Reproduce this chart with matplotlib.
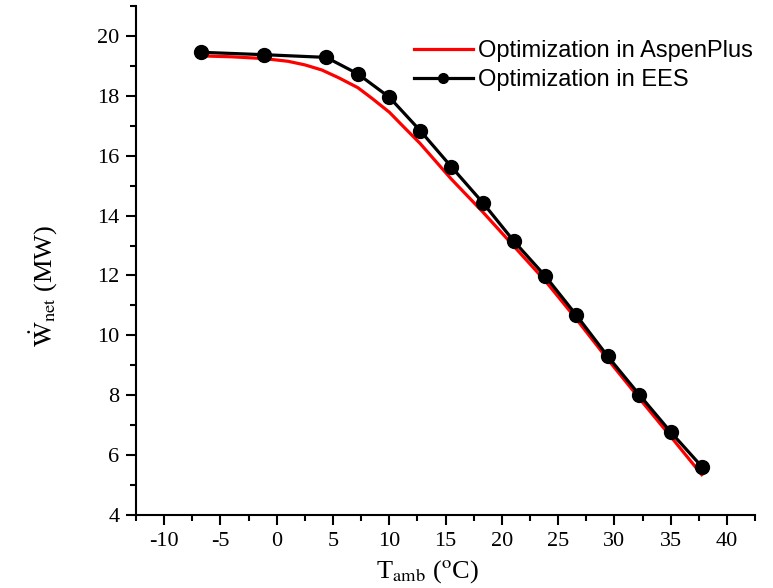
import matplotlib.pyplot as plt
from matplotlib.ticker import MultipleLocator

#### Net power output vs ambient temperature
## AspenPlus optimization (smooth curve, read at many points)
t_aspen = [-6.7, -4.0, -1.1, 1.0, 2.5, 4.0, 5.5, 7.2, 8.5, 10.0, 11.3, 12.7,
           15.5, 18.3, 21.05, 23.85, 26.6, 29.4, 32.2, 35.0, 37.75]
w_aspen = [19.33, 19.30, 19.24, 19.15, 19.03, 18.86, 18.60, 18.27, 17.90, 17.45, 16.95, 16.42,
           15.22, 14.12, 12.98, 11.82, 10.55, 9.20, 7.90, 6.62, 5.35]

## EES optimization (marked points)
t_ees = [-6.7, -1.1, 4.4, 7.2, 10.0, 12.75, 15.5, 18.3, 21.05, 23.85,
         26.6, 29.4, 32.2, 35.0, 37.75]
w_ees = [19.45, 19.37, 19.28, 18.73, 17.95, 16.83, 15.63, 14.43, 13.15, 11.98,
         10.68, 9.30, 8.02, 6.77, 5.62]

plt.rcParams['font.family'] = ['Liberation Serif', 'DejaVu Serif']
plt.rcParams['mathtext.fontset'] = 'stix'
plt.rcParams['axes.unicode_minus'] = False

fig = plt.figure(figsize=(7.73, 5.88), dpi=100)
ax = fig.add_axes([0.176, 0.124, 0.801, 0.866])

ax.plot(t_aspen, w_aspen, color='red', lw=2.3, label='Optimization in AspenPlus')
ax.plot(t_ees, w_ees, color='black', lw=2.3, marker='o', markersize=10,
        label='Optimization in EES')

ax.set_xlim(-12.5, 42.5)
ax.set_ylim(4, 21)
ax.set_xticks([-10, -5, 0, 5, 10, 15, 20, 25, 30, 35, 40])
ax.xaxis.set_minor_locator(MultipleLocator(2.5))
ax.yaxis.set_major_locator(MultipleLocator(2))
ax.yaxis.set_minor_locator(MultipleLocator(1))

for s in ['top', 'right']:
    ax.spines[s].set_visible(False)
for s in ['left', 'bottom']:
    ax.spines[s].set_linewidth(1.5)
ax.tick_params(which='major', direction='out', length=7, width=1.5, labelsize=16, pad=5)
ax.tick_params(which='minor', direction='out', length=4, width=1.5)

ax.set_xlabel(r'T$_{\mathrm{amb}}$ ($^{\mathrm{o}}$C)', fontsize=19)
ax.set_ylabel(r'$\dot{\mathrm{W}}_{\mathrm{net}}$ (MW)', fontsize=19)
ax.xaxis.set_label_coords(0.47, -0.085)
ax.yaxis.set_label_coords(-0.125, 0.45)

leg = fig.legend(loc='upper left', bbox_to_anchor=(0.508, 0.968), frameon=False,
                 handlelength=2.5, handletextpad=0.2, labelspacing=0.3,
                 markerscale=0.7,
                 handles=ax.get_lines(),
                 prop={'family': 'Liberation Sans', 'size': 17})

plt.savefig('out.png', dpi=100)
